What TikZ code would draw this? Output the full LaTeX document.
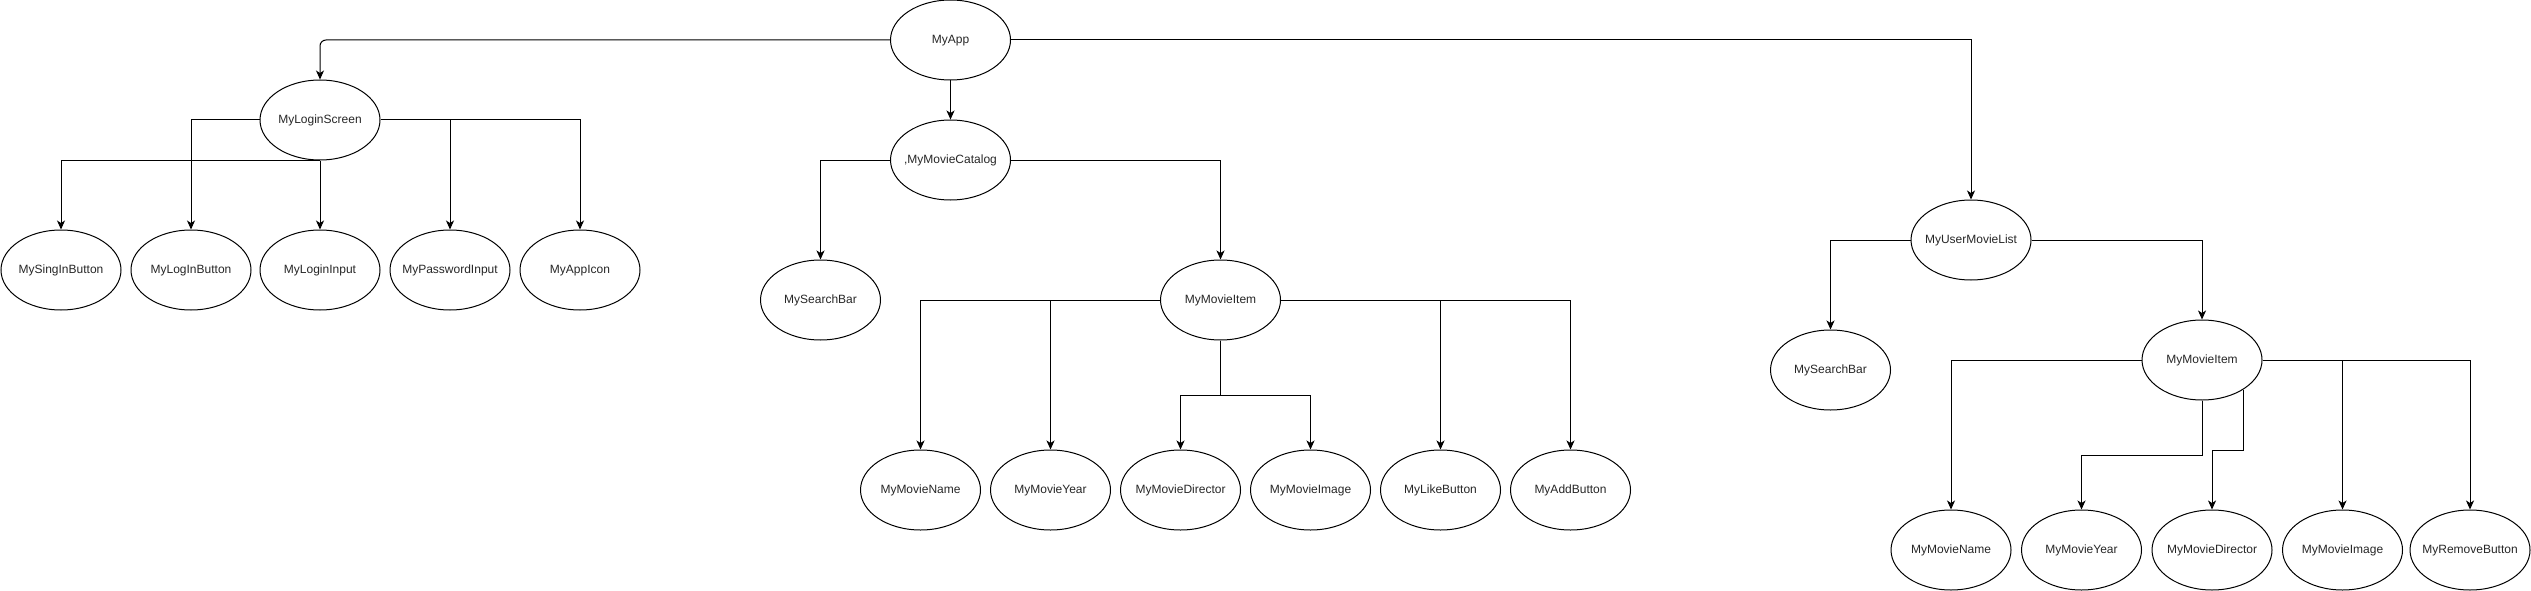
\documentclass[tikz,border=0pt]{standalone}
\usepackage{fontspec}
\setmainfont{Liberation Sans}
\usetikzlibrary{shapes.geometric,arrows.meta}
\tikzset{
  comp/.style={draw=black, line width=1pt, ellipse, minimum width=120pt, minimum height=80pt, inner xsep=-20pt, inner ysep=0pt, text height=8.7pt, text depth=2.5pt, font=\fontsize{12}{14}\selectfont, text=black!85},
  arr/.style={draw=black, line width=1pt, -{Stealth[length=9pt,width=8pt,inset=2.5pt]}},
}
\begin{document}
\begin{tikzpicture}[x=1pt,y=-1pt]
\useasboundingbox (0,0) rectangle (2531,591);
% top
\node[comp] (app) at (950.5,40) {MyApp};
% login branch
\node[comp] (login) at (320,120) {MyLoginScreen};
\node[comp] (singin) at (61,270) {MySingInButton};
\node[comp] (loginbtn) at (191,270) {MyLogInButton};
\node[comp] (loginput) at (320,270) {MyLoginInput};
\node[comp] (pwd) at (450,270) {MyPasswordInput};
\node[comp] (appicon) at (580,270) {MyAppIcon};
% catalog branch
\node[comp] (catalog) at (950.5,160) {,MyMovieCatalog};
\node[comp] (csearch) at (820.5,300) {MySearchBar};
\node[comp] (citem) at (1220.5,300) {MyMovieItem};
\node[comp] (cname) at (920.5,490) {MyMovieName};
\node[comp] (cyear) at (1050.5,490) {MyMovieYear};
\node[comp] (cdir) at (1180.5,490) {MyMovieDirector};
\node[comp] (cimg) at (1310.5,490) {MyMovieImage};
\node[comp] (clike) at (1440.5,490) {MyLikeButton};
\node[comp] (cadd) at (1570.5,490) {MyAddButton};
% user list branch
\node[comp] (ulist) at (1971,240) {MyUserMovieList};
\node[comp] (usearch) at (1830.5,370) {MySearchBar};
\node[comp] (uitem) at (2202,360) {MyMovieItem};
\node[comp] (uname) at (1951,550) {MyMovieName};
\node[comp] (uyear) at (2081.5,550) {MyMovieYear};
\node[comp] (udir) at (2212,550) {MyMovieDirector};
\node[comp] (uimg) at (2342.5,550) {MyMovieImage};
\node[comp] (uremove) at (2470,550) {MyRemoveButton};
% app edges
\draw[arr, rounded corners=6pt] (app.west) -| (login.north);
\draw[arr] (app.south) -- (catalog.north);
\draw[arr] (app.east) -| (ulist.north);
% login edges
\draw[arr] (login.south) -| (singin.north);
\draw[arr] (login.west) -| (loginbtn.north);
\draw[arr] (login.south) -- (loginput.north);
\draw[arr] (login.east) -| (pwd.north);
\draw[arr] (login.east) -| (appicon.north);
% catalog edges
\draw[arr] (catalog.west) -| (csearch.north);
\draw[arr] (catalog.east) -| (citem.north);
\draw[arr] (citem.west) -| (cname.north);
\draw[arr] (citem.west) -| (cyear.north);
\draw[arr] (citem.south) -- ++(0,55) -| (cdir.north);
\draw[arr] (citem.south) -- ++(0,55) -| (cimg.north);
\draw[arr] (citem.east) -| (clike.north);
\draw[arr] (citem.east) -| (cadd.north);
% user list edges
\draw[arr] (ulist.west) -| (usearch.north);
\draw[arr] (ulist.east) -| (uitem.north);
\draw[arr] (uitem.west) -| (uname.north);
\draw[arr] (uitem.south) -- ++(0,55) -| (uyear.north);
\draw[arr] (uitem.-36) -- ++(0,60.5) -| (udir.north);
\draw[arr] (uitem.east) -| (uimg.north);
\draw[arr] (uitem.east) -| (uremove.north);
\end{tikzpicture}
\end{document}
